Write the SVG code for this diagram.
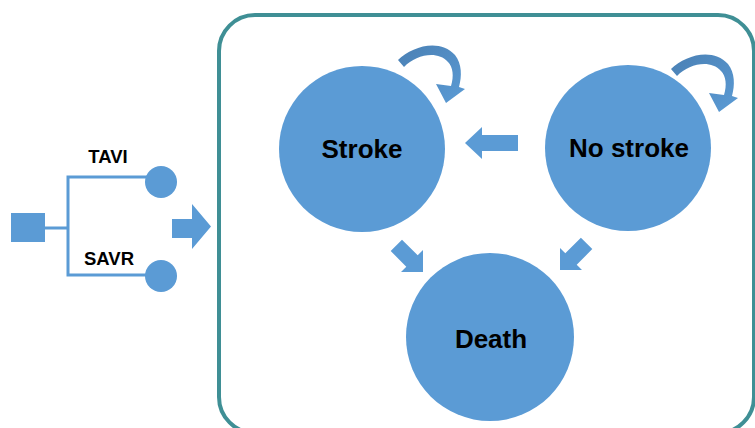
<svg xmlns="http://www.w3.org/2000/svg" width="755" height="428" viewBox="0 0 755 428">
<defs>
<linearGradient id="loopg" x1="0" y1="0" x2="1" y2="1">
<stop offset="0" stop-color="#4a80b4"/>
<stop offset="1" stop-color="#5b9bd5"/>
</linearGradient>
<style>
.st{fill:#5b9bd5}
.ln{stroke:#5b9bd5;stroke-width:3;fill:none}
.lbl{font-family:"Liberation Sans",Arial,sans-serif;font-weight:bold;fill:#000;text-anchor:middle}
.big{font-size:26px}
.sm{font-size:18.5px}
.loop{fill:url(#loopg)}
</style>
</defs>
<rect x="219" y="15" width="535" height="418" rx="36" fill="none" stroke="#3f8f95" stroke-width="4"/>
<g id="tree">
<rect class="st" x="11" y="213" width="34" height="29"/>
<path class="ln" d="M45,228 H68 M68,177 V275 M66.5,177 H152 M66.5,275 H152"/>
<circle class="st" cx="161" cy="182" r="16"/>
<circle class="st" cx="161" cy="276" r="16"/>
<text class="lbl sm" x="108" y="163">TAVI</text>
<text class="lbl sm" x="109" y="265">SAVR</text>
</g>
<g id="stroke">
<circle class="st" cx="362" cy="149" r="83"/>
<text class="lbl big" x="362" y="158">Stroke</text>
</g>
<g id="nostroke">
<circle class="st" cx="628" cy="148" r="83"/>
<text class="lbl big" x="629" y="157">No stroke</text>
</g>
<g id="death">
<circle class="st" cx="490" cy="337" r="84"/>
<text class="lbl big" x="491" y="348">Death</text>
</g>
<g id="connectors">
<polygon class="st" points="172,219 192,219 192,204 211,226.5 192,249 192,238 172,238"/>
<polygon class="st" points="518,135 482,135 482,127 465,143 482,159 482,151 518,151"/>
<polygon class="st" points="402,239.7 417.7,255.3 423,250 423,272 401,272 406.3,266.7 390.7,251"/>
<polygon class="st" points="580.9,237.7 565.3,253.3 560,248 560,270 582,270 576.7,264.7 592.3,249.1"/>
<path class="loop" d="M398,60 C412,46 440,38 455,55 C462,64 462,76 459,87 L465,89 L446,103 L436,84 L451,86 C454,76 453,67 448,62 C437,50 416,55 404,67 Z"/>
<path class="loop" transform="translate(273,9)" d="M398,60 C412,46 440,38 455,55 C462,64 462,76 459,87 L465,89 L446,103 L436,84 L451,86 C454,76 453,67 448,62 C437,50 416,55 404,67 Z"/>
</g>
</svg>
